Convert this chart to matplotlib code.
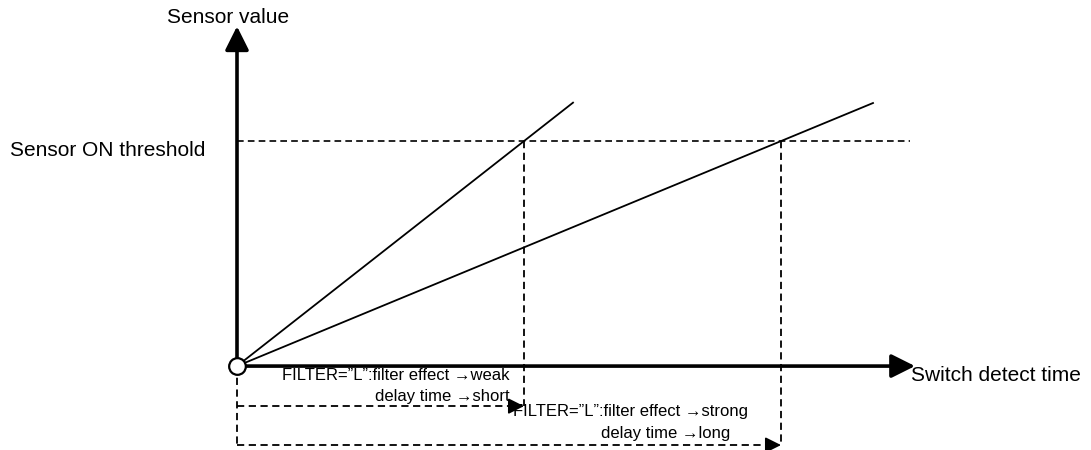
import matplotlib
matplotlib.use("Agg")
import matplotlib.pyplot as plt

plt.rcParams['font.family'] = ['Liberation Sans', 'DejaVu Sans']

# conceptual units: time (1 unit ~ 100 px), sensor value (threshold = 1)
threshold = 1.0
t_on = [2.87, 5.44]          # time when each response crosses the threshold
t_end = [3.36, 6.36]         # where each response line stops
t_axis_end = 6.78
s_axis_end = 1.51
t_thresh_end = 6.73
row_y = [-0.178, -0.351]     # heights of the dashed delay arrows

dash = (0, (4, 2.5))

fig = plt.figure(figsize=(10.91, 4.5), dpi=100)
ax = fig.add_axes([0, 0, 1, 1])
ax.set_xlim(-2.37, 8.54)
ax.set_ylim(-0.373, 1.627)
ax.axis('off')

# axes with arrows
for tip in [(t_axis_end, 0), (0, s_axis_end)]:
    ax.annotate('', xy=tip, xytext=(0, 0),
                arrowprops=dict(arrowstyle='-|>', lw=2.6, color='k', mutation_scale=36,
                                shrinkA=0, shrinkB=0))

# threshold
ax.plot([0, t_thresh_end], [threshold, threshold], color='k', lw=1.2, ls=dash)

# responses
for i in range(2):
    slope = threshold / t_on[i]
    ax.plot([0, t_end[i]], [0, slope * t_end[i]], color='k', lw=1.3)
    ax.plot([t_on[i], t_on[i]], [threshold, row_y[i]], color='k', lw=1.3, ls=dash)
    ax.plot([0, t_on[i] - 0.12], [row_y[i], row_y[i]], color='k', lw=1.3, ls=dash)
    ax.annotate('', xy=(t_on[i], row_y[i]), xytext=(t_on[i] - 0.14, row_y[i]),
                arrowprops=dict(arrowstyle='-|>', lw=1.2, color='k', mutation_scale=24,
                                shrinkA=0, shrinkB=0))

ax.plot([0, 0], [0, row_y[1]], color='k', lw=1.3, ls=dash)

# origin marker
ax.plot([0], [0], marker='o', ms=12, mfc='white', mec='k', mew=1.6, zorder=5)

# texts
ax.text(-0.09, 1.551, 'Sensor value', fontsize=15, ha='center', va='center')
ax.text(-2.27, 0.96, 'Sensor ON threshold', fontsize=15, ha='left', va='center')
ax.text(6.74, -0.044, 'Switch detect time', fontsize=15, ha='left', va='center')
ax.text(2.73, -0.04, 'FILTER=\u201dL\u201d:filter effect \u2192weak', fontsize=12,
        ha='right', va='center')
ax.text(2.73, -0.133, 'delay time \u2192short', fontsize=12, ha='right', va='center')
ax.text(2.76, -0.204, 'FILTER=\u201dL\u201d:filter effect \u2192strong', fontsize=12,
        ha='left', va='center')
ax.text(4.93, -0.298, 'delay time \u2192long', fontsize=12, ha='right', va='center')

fig.savefig('out.png', dpi=100)
